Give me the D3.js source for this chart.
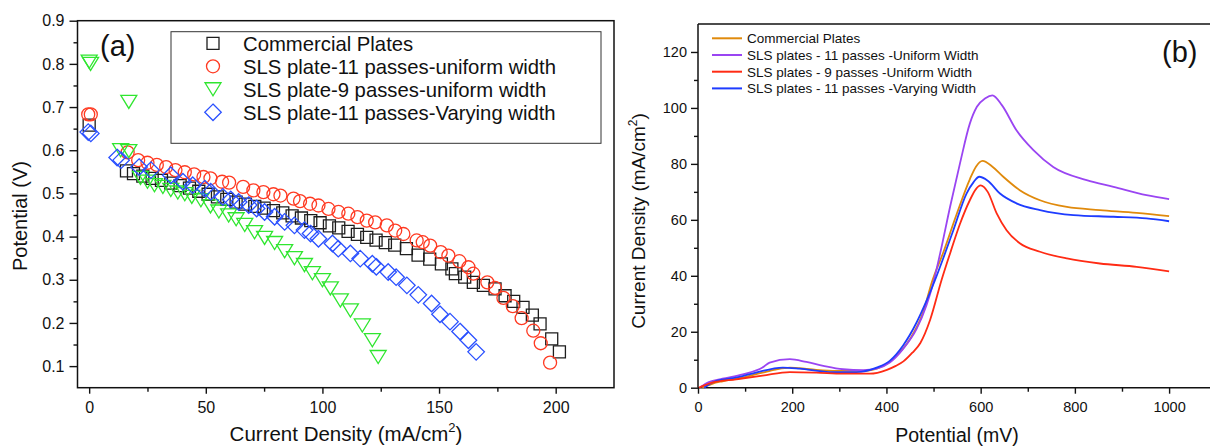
<!DOCTYPE html>
<html><head><meta charset="utf-8">
<script src="https://cdn.jsdelivr.net/npm/d3@7"></script>
<style>body{margin:0;background:#fff}svg{display:block}text{font-family:"Liberation Sans",Arial,sans-serif;fill:#111}</style>
</head><body>
<script>
// ---------- Panel (a): polarization curves ----------
const seriesNamesA = ["Commercial Plates","SLS plate-11 passes-uniform width","SLS plate-9 passes-uniform width","SLS plate-11 passes-Varying width"];
const commercialJ = [0,16,19,23,27,31,35,39,43,47,51,55,59,63,67,71,75,79,83,87,91,95,99,103,107,111,115,119,123,127,131,136,141,146,151,155.5,157,161,164.7,169,174,178.3,182,186,190,193.3,198.3,201.6];
const commercialV = [0.658,0.552,0.546,0.54,0.535,0.53,0.524,0.518,0.512,0.505,0.498,0.492,0.486,0.48,0.475,0.47,0.466,0.46,0.455,0.448,0.443,0.437,0.432,0.425,0.42,0.412,0.405,0.398,0.392,0.386,0.38,0.372,0.357,0.348,0.337,0.325,0.314,0.306,0.294,0.287,0.279,0.263,0.25,0.236,0.218,0.198,0.163,0.133];
const sls11uJ = [-0.4,0.7,16.5,21,25,29,33,37,41,45,49,52,57,60,66,70.4,74.7,79,82,87.6,90.4,94.7,98.3,102.6,106.9,111.1,115,119,122.6,127.6,131.2,134.7,140.4,143,146.2,150.7,154,158.7,162.6,164.7,170.7,174,177.6,181.6,185.4,190.4,193.6,197.6];
const sls11uV = [0.683,0.683,0.595,0.577,0.571,0.566,0.561,0.554,0.549,0.544,0.538,0.535,0.527,0.525,0.515,0.507,0.503,0.498,0.495,0.488,0.482,0.476,0.472,0.464,0.457,0.453,0.445,0.437,0.433,0.426,0.414,0.406,0.391,0.387,0.379,0.364,0.356,0.343,0.329,0.314,0.294,0.281,0.258,0.239,0.211,0.182,0.153,0.108];
const sls9uJ = [0,0.6,17,13.5,17,22,25,28,31.6,35,38,41,44,47.9,52,55.6,59.8,63,66.7,70.9,75.2,79.5,83.8,88,92.3,95.7,100,103.4,107.7,112,117.1,121.4,123.9];
const sls9uV = [0.805,0.80,0.712,0.6,0.598,0.536,0.527,0.519,0.515,0.508,0.502,0.498,0.492,0.484,0.47,0.458,0.449,0.44,0.427,0.41,0.397,0.385,0.366,0.35,0.334,0.315,0.299,0.28,0.252,0.229,0.194,0.16,0.121];
const sls11vJ = [-0.4,0.7,12,13.7,21.4,26.5,35,40.2,44.4,49.6,52.1,57.3,60.7,64.1,68.4,71.8,75.2,79.5,83.8,88,92.3,94.9,98.3,104.3,106.8,112,116.2,121.4,123.1,128.2,131.6,136.2,141.1,146.8,150.4,154.7,159,162.6,165.9];
const sls11vV = [0.642,0.639,0.583,0.577,0.561,0.554,0.542,0.527,0.519,0.511,0.504,0.492,0.486,0.48,0.473,0.465,0.457,0.446,0.434,0.426,0.415,0.407,0.395,0.384,0.372,0.361,0.349,0.337,0.33,0.318,0.306,0.287,0.265,0.245,0.22,0.203,0.18,0.16,0.133];
const xTicksA = [0,50,100,150,200];
const xMinorA = [25,75,125,175];
const yTicksA = [0.1,0.2,0.3,0.4,0.5,0.6,0.7,0.8,0.9];
const yMinorA = [0.15,0.25,0.35,0.45,0.55,0.65,0.75,0.85];

// ---------- Panel (b): current density vs potential ----------
const seriesNamesB = ["Commercial Plates","SLS plates - 11 passes -Uniform Width","SLS plates - 9 passes -Uniform Width","SLS plates - 11 passes -Varying Width"];
const commercialE = [9,30,52,95,137,165,195,237,294,351,393,421,450,478,496,521,549,577,590,604,625,648,683,726,783,853,931,1000];
const commercialI = [0,1.4,2.3,3.6,5.4,6.5,7.2,6.6,6.0,6.0,7.8,11.4,17.4,27,37.5,48.5,62,74.5,79,81.1,79,75.4,70.6,67,64.6,63.5,62.5,61.3];
const uni11E = [6,23,52,95,137,152,195,230,266,308,351,379,407,435,464,485,497,514,535,556,577,592,610,625,645,676,712,754,825,882,952,1000];
const uni11I = [0.3,2,3.2,4.8,7.2,9,10.2,9.2,7.8,6.6,6.3,6.8,9,13.8,21,29.5,36,48,64.6,80.1,94.4,100.4,103.5,104.5,101,92,84.9,78.9,74.2,71.8,68.8,67.4];
const uni9E = [2,30,81,137,195,251,308,365,401,420,436,455,472,493,517,537,556,577,590,600,615,634,655,683,726,783,853,931,1000];
const uni9I = [0,1.8,3,4.3,5.6,5.4,5.0,5.0,6.4,7.8,9.4,12.5,16,24.4,38.5,49,58.5,67,71,72.3,70,62.3,56.3,51.6,48.6,46.2,44.4,43.2,41.6];
const var11E = [13,38,81,123,180,216,279,336,379,407,435,464,485,503,520,542,570,585,597,615,641,676,726,797,882,952,1000];
const var11I = [0,2.4,3.6,5.4,7.2,6.8,5.6,5.6,7.2,9.6,15,23.3,31,38.4,46,56.3,69.4,73.5,75.4,74,69.4,65.9,63.5,61.7,61.1,60.5,59.5];
const xTicksB = [0,200,400,600,800,1000];
const xMinorB = [100,300,500,700,900];
const yTicksB = [0,20,40,60,80,100,120];
const yMinorB = [10,30,50,70,90,110];

const zip = (a,b) => a.map((v,i)=>[v,b[i]]);

const svg = d3.select("body").append("svg").attr("width",1210).attr("height",447);
svg.append("rect").attr("width",1210).attr("height",447).attr("fill","#fff");

// ===== Panel (a) =====
const xA = d3.scaleLinear().domain([-5,225]).range([77.5,614]);
const yA = d3.scaleLinear().domain([0.05,0.9]).range([387.7,20.7]);
const gA = svg.append("g");

gA.append("rect").attr("x",xA.range()[0]).attr("y",yA.range()[1])
  .attr("width",xA.range()[1]-xA.range()[0]).attr("height",yA.range()[0]-yA.range()[1])
  .attr("fill","none").attr("stroke","#111").attr("stroke-width",1.5);

function styleAxis(g, fs){
  g.select(".domain").remove();
  g.selectAll("line").attr("stroke","#111").attr("stroke-width",1.4);
  g.selectAll("text").attr("font-size",fs).attr("fill","#111").style("font-family","'Liberation Sans',Arial,sans-serif");
}
gA.append("g").attr("transform",`translate(0,${yA.range()[0]})`)
  .call(d3.axisBottom(xA).tickValues(xTicksA).tickSize(6).tickPadding(8).tickFormat(d3.format("d")))
  .call(g=>styleAxis(g,16));
gA.append("g").attr("transform",`translate(0,${yA.range()[0]})`)
  .call(d3.axisBottom(xA).tickValues(xMinorA).tickSize(4).tickFormat(""))
  .call(g=>styleAxis(g,16));
gA.append("g").attr("transform",`translate(${xA.range()[0]},0)`)
  .call(d3.axisLeft(yA).tickValues(yTicksA).tickSize(8).tickPadding(5).tickFormat(d3.format(".1f")))
  .call(g=>styleAxis(g,16));
gA.append("g").attr("transform",`translate(${xA.range()[0]},0)`)
  .call(d3.axisLeft(yA).tickValues(yMinorA).tickSize(4).tickFormat(""))
  .call(g=>styleAxis(g,16));

// marker shapes
const triDown = {draw(ctx,size){const w=Math.sqrt(size);const h=w*0.82;ctx.moveTo(-w/2,-h/2);ctx.lineTo(w/2,-h/2);ctx.lineTo(0,h/2);ctx.closePath();}};
const diamond = {draw(ctx,size){const r=Math.sqrt(size)/2;ctx.moveTo(0,-r);ctx.lineTo(r,0);ctx.lineTo(0,r);ctx.lineTo(-r,0);ctx.closePath();}};
const sq = {draw(ctx,size){const r=Math.sqrt(size)/2;ctx.rect(-r,-r,2*r,2*r);}};
const circ = {draw(ctx,size){const r=Math.sqrt(size)/2;ctx.moveTo(r,0);ctx.arc(0,0,r,0,2*Math.PI);}};

const seriesA = [
  {name:seriesNamesA[0], data:zip(commercialJ,commercialV), type:sq, size:12*12, color:"#1e1e1e"},
  {name:seriesNamesA[1], data:zip(sls11uJ,sls11uV), type:circ, size:13*13, color:"#ff3a22"},
  {name:seriesNamesA[2], data:zip(sls9uJ,sls9uV), type:triDown, size:16*16, color:"#2fe62f"},
  {name:seriesNamesA[3], data:zip(sls11vJ,sls11vV), type:diamond, size:16.5*16.5, color:"#2a50ff"}
];
const plotA = gA.append("g");
seriesA.forEach(s=>{
  const sym = d3.symbol().type(s.type).size(s.size);
  plotA.append("g").selectAll("path").data(s.data).join("path")
    .attr("transform",d=>`translate(${xA(d[0])},${yA(d[1])})`)
    .attr("d",sym).attr("fill","none").attr("stroke",s.color).attr("stroke-width",1.3);
});

// legend (a)
gA.append("rect").attr("x",171).attr("y",31.7).attr("width",430).attr("height",111.6)
  .attr("fill","none").attr("stroke","#333").attr("stroke-width",1);
const legA = gA.append("g");
seriesA.forEach((s,i)=>{
  const y = 43.3 + i*23;
  legA.append("path").attr("transform",`translate(213,${y})`).attr("d",d3.symbol().type(s.type).size(s.size)())
    .attr("fill","none").attr("stroke",s.color).attr("stroke-width",1.3);
  legA.append("text").attr("x",243).attr("y",y).attr("dy","0.36em").attr("font-size",20.3).text(s.name);
});
gA.append("text").attr("x",100).attr("y",56).attr("font-size",29).text("(a)");

// axis titles (a)
gA.append("text").attr("transform","translate(27,216) rotate(-90)").attr("text-anchor","middle").attr("font-size",20).text("Potential (V)");
const tA = gA.append("text").attr("x",346).attr("y",441).attr("text-anchor","middle").attr("font-size",20.5);
tA.append("tspan").text("Current Density (mA/cm");
tA.append("tspan").attr("font-size",13).attr("dy","-0.7em").text("2");
tA.append("tspan").attr("dy","0.45em").text(")");

// ===== Panel (b) =====
const xB = d3.scaleLinear().domain([0,1090]).range([698,1211.5]);
const yB = d3.scaleLinear().domain([0,130]).range([387.7,24]);
const gB = svg.append("g");
gB.append("line").attr("x1",xB.range()[0]).attr("x2",1210).attr("y1",yB.range()[1]).attr("y2",yB.range()[1]).attr("stroke","#111").attr("stroke-width",1.5);
gB.append("line").attr("x1",xB.range()[0]).attr("x2",1210).attr("y1",yB.range()[0]).attr("y2",yB.range()[0]).attr("stroke","#111").attr("stroke-width",1.5);
gB.append("line").attr("x1",xB.range()[0]).attr("x2",xB.range()[0]).attr("y1",yB.range()[1]).attr("y2",yB.range()[0]).attr("stroke","#111").attr("stroke-width",1.5);

gB.append("g").attr("transform",`translate(0,${yB.range()[0]})`)
  .call(d3.axisBottom(xB).tickValues(xTicksB).tickSize(6).tickPadding(8).tickFormat(d3.format("d")))
  .call(g=>styleAxis(g,14.5));
gB.append("g").attr("transform",`translate(0,${yB.range()[0]})`)
  .call(d3.axisBottom(xB).tickValues(xMinorB).tickSize(4).tickFormat(""))
  .call(g=>styleAxis(g,14.5));
gB.append("g").attr("transform",`translate(${xB.range()[0]},0)`)
  .call(d3.axisLeft(yB).tickValues(yTicksB).tickSize(7).tickPadding(4).tickFormat(d3.format("d")))
  .call(g=>styleAxis(g,14.5));
gB.append("g").attr("transform",`translate(${xB.range()[0]},0)`)
  .call(d3.axisLeft(yB).tickValues(yMinorB).tickSize(4).tickFormat(""))
  .call(g=>styleAxis(g,14.5));

const seriesB = [
  {name:seriesNamesB[0], data:zip(commercialE,commercialI), color:"#e08a0c"},
  {name:seriesNamesB[1], data:zip(uni11E,uni11I), color:"#9a45f2"},
  {name:seriesNamesB[2], data:zip(uni9E,uni9I), color:"#ff2b14"},
  {name:seriesNamesB[3], data:zip(var11E,var11I), color:"#1e3cff"}
];
const line = d3.line().x(d=>xB(d[0])).y(d=>yB(d[1])).curve(d3.curveMonotoneX);
const drawOrder = [0,1,3,2];
drawOrder.forEach(i=>{
  const s = seriesB[i];
  gB.append("path").datum(s.data).attr("d",line).attr("fill","none").attr("stroke",s.color).attr("stroke-width",1.8);
});

const legB = gB.append("g");
seriesB.forEach((s,i)=>{
  const y = 38.3 + i*16.7;
  legB.append("line").attr("x1",712).attr("x2",742).attr("y1",y).attr("y2",y).attr("stroke",s.color).attr("stroke-width",2);
  legB.append("text").attr("x",747).attr("y",y).attr("dy","0.36em").attr("font-size",13.5).text(s.name);
});
gB.append("text").attr("x",1162).attr("y",62).attr("font-size",29).text("(b)");

const tB = gB.append("text").attr("transform","translate(645,221) rotate(-90)").attr("text-anchor","middle").attr("font-size",19);
tB.append("tspan").text("Current Density (mA/cm");
tB.append("tspan").attr("font-size",12).attr("dy","-0.7em").text("2");
tB.append("tspan").attr("dy","0.45em").text(")");
gB.append("text").attr("x",957).attr("y",442).attr("text-anchor","middle").attr("font-size",19.5).text("Potential (mV)");
</script>
</body></html>
